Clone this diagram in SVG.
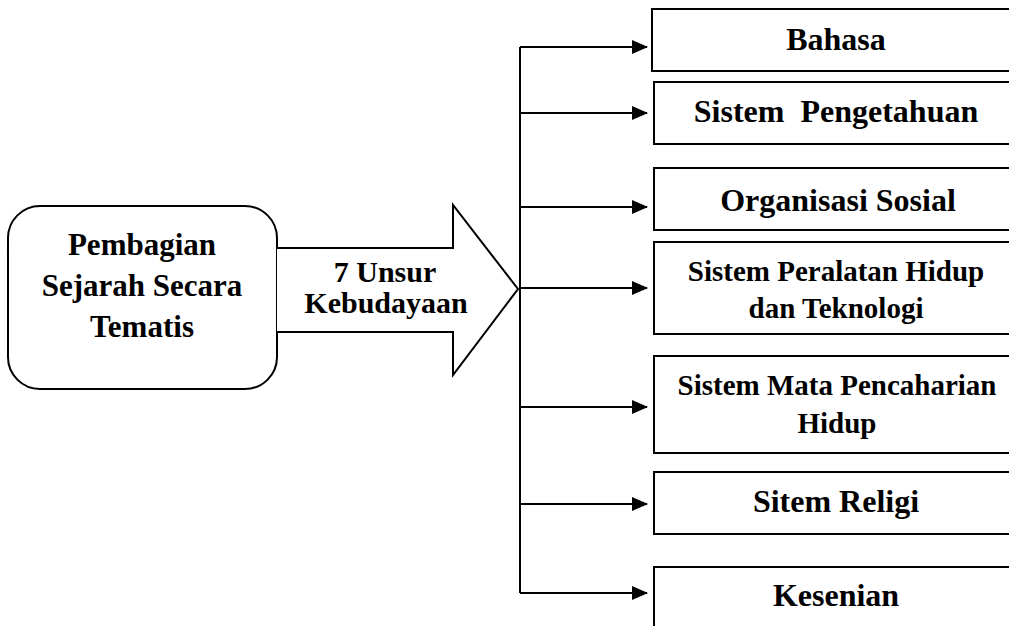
<svg xmlns="http://www.w3.org/2000/svg" width="1009" height="626" viewBox="0 0 1009 626">
<defs>
<style>
.box{fill:#fff;stroke:#000;stroke-width:2}
.t{font-family:"Liberation Serif","Times New Roman",serif;font-weight:bold;fill:#000;text-anchor:middle}
.r{font-size:32px}
.r2{font-size:29px}
.l{font-size:31px}
.m{font-size:30px}
.c{stroke:#000;stroke-width:2;fill:none}
</style>
<marker id="ah" markerWidth="16" markerHeight="14" refX="15" refY="7" orient="auto" markerUnits="userSpaceOnUse">
<path d="M0,0 L16,7 L0,14 Z" fill="#000"/>
</marker>
</defs>
<rect width="1009" height="626" fill="#fff"/>
<g id="source">
<rect class="box" x="8" y="206" width="269" height="183" rx="32"/>
<text class="t l" x="142" y="255">Pembagian</text>
<text class="t l" x="142" y="296">Sejarah Secara</text>
<text class="t l" x="142" y="337">Tematis</text>
</g>
<g id="bigarrow">
<path class="box" d="M277,248 L453,248 L453,205 L518,289 L453,375 L453,332 L277,332"/>
<text class="t m" x="385" y="282">7 Unsur</text>
<text class="t m" x="386" y="313">Kebudayaan</text>
</g>
<g id="connectors">
<path class="c" d="M520,47 L520,593"/>
<path class="c" d="M520,47 L647,47" marker-end="url(#ah)"/>
<path class="c" d="M520,113 L647,113" marker-end="url(#ah)"/>
<path class="c" d="M520,207 L647,207" marker-end="url(#ah)"/>
<path class="c" d="M520,288 L647,288" marker-end="url(#ah)"/>
<path class="c" d="M520,407 L647,407" marker-end="url(#ah)"/>
<path class="c" d="M520,504 L647,504" marker-end="url(#ah)"/>
<path class="c" d="M520,593 L647,593" marker-end="url(#ah)"/>
</g>
<g id="n1"><rect class="box" x="652" y="9" width="370" height="62"/><text class="t r" x="836" y="50">Bahasa</text></g>
<g id="n2"><rect class="box" x="654" y="82" width="370" height="62"/><text class="t r" x="836" y="122" xml:space="preserve">Sistem  Pengetahuan</text></g>
<g id="n3"><rect class="box" x="654" y="168" width="370" height="62"/><text class="t r" x="838" y="211">Organisasi Sosial</text></g>
<g id="n4"><rect class="box" x="654" y="242" width="370" height="92"/><text class="t r2" x="836" y="281">Sistem Peralatan Hidup</text><text class="t r2" x="836" y="318">dan Teknologi</text></g>
<g id="n5"><rect class="box" x="654" y="356" width="370" height="97"/><text class="t r2" x="837" y="395">Sistem Mata Pencaharian</text><text class="t r2" x="837" y="433">Hidup</text></g>
<g id="n6"><rect class="box" x="654" y="472" width="370" height="62"/><text class="t r" x="836" y="512">Sitem Religi</text></g>
<g id="n7"><rect class="box" x="654" y="567" width="370" height="80"/><text class="t r" x="836" y="606">Kesenian</text></g>
</svg>
